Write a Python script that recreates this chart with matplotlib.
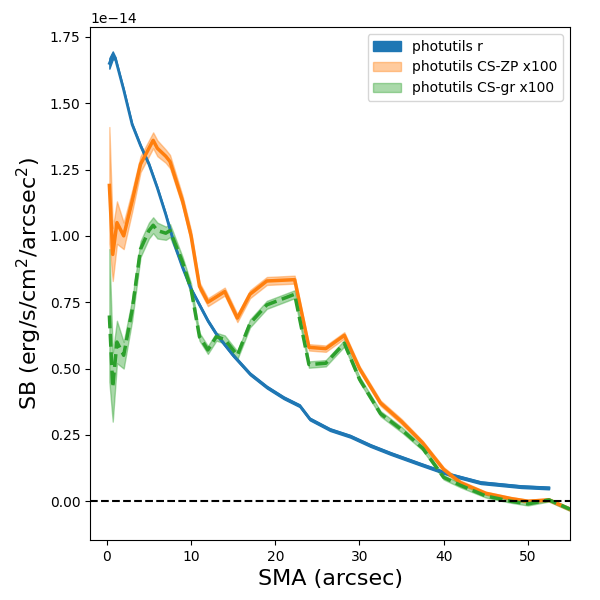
import numpy as np
import matplotlib
matplotlib.use("Agg")
import matplotlib.pyplot as plt

sma_r = [0.3, 0.7, 1.0, 2, 3, 4, 5, 6, 7, 8, 9, 10, 11, 12, 13, 14, 15, 16, 17, 19, 21, 22.9, 24.1, 26.5, 28.9, 31.3, 33.7, 37.2, 40.8, 44.4, 49.2, 52.5]
sb_r = [1.65, 1.68, 1.67, 1.55, 1.42, 1.34, 1.27, 1.18, 1.08, 0.97, 0.88, 0.80, 0.74, 0.68, 0.63, 0.59, 0.55, 0.515, 0.48, 0.43, 0.39, 0.36, 0.31, 0.27, 0.245, 0.21, 0.18, 0.14, 0.10, 0.07, 0.055, 0.05]
err_r = [0.02, 0.015] + [0.005] * 30

sma = [0.3, 0.7, 1.2, 2, 3, 4, 5, 5.5, 6, 7, 7.5, 9, 10, 11, 12, 13, 14, 15.5, 17, 19, 22.3, 24, 26, 28.2, 30, 32.5, 35, 37.5, 40, 42, 45, 48, 50, 52.5, 55]
sb_zp = [1.19, 0.93, 1.05, 1.0, 1.13, 1.27, 1.33, 1.36, 1.33, 1.3, 1.28, 1.13, 1.0, 0.81, 0.75, 0.77, 0.79, 0.69, 0.78, 0.83, 0.835, 0.58, 0.575, 0.625, 0.5, 0.37, 0.3, 0.22, 0.12, 0.07, 0.03, 0.01, 0.0, 0.005, -0.03]
err_zp = [0.22, 0.1, 0.08, 0.05, 0.04, 0.03, 0.03, 0.03, 0.03, 0.025, 0.025, 0.02, 0.02, 0.015, 0.015, 0.015, 0.015, 0.015, 0.015, 0.015, 0.015, 0.012, 0.012, 0.012, 0.01, 0.01, 0.01, 0.008, 0.008, 0.008, 0.006, 0.006, 0.006, 0.006, 0.006]
sb_gr = [0.70, 0.43, 0.6, 0.55, 0.72, 0.95, 1.02, 1.04, 1.02, 1.01, 1.02, 0.9, 0.8, 0.62, 0.57, 0.62, 0.61, 0.55, 0.67, 0.74, 0.78, 0.515, 0.52, 0.595, 0.46, 0.33, 0.27, 0.2, 0.09, 0.06, 0.02, 0.0, -0.01, 0.005, -0.03]
err_gr = [0.25, 0.13, 0.08, 0.05, 0.04, 0.03, 0.03, 0.03, 0.03, 0.025, 0.025, 0.02, 0.02, 0.015, 0.015, 0.015, 0.015, 0.015, 0.015, 0.015, 0.015, 0.012, 0.012, 0.012, 0.01, 0.01, 0.01, 0.008, 0.008, 0.008, 0.006, 0.006, 0.006, 0.006, 0.006]

s = 1e-14
fig, ax = plt.subplots(figsize=(6, 6), dpi=100)
r = np.array(sb_r) * s; er = np.array(err_r) * s
ax.plot(sma_r, r, color='C0', lw=2)
ax.fill_between(sma_r, r - er, r + er, color='C0', alpha=1, label='photutils r')
z = np.array(sb_zp) * s; ez = np.array(err_zp) * s
ax.plot(sma, z, color='C1', lw=2.5)
ax.fill_between(sma, z - ez, z + ez, color='C1', alpha=0.4, label='photutils CS-ZP x100')
g = np.array(sb_gr) * s; eg = np.array(err_gr) * s
ax.plot(sma, g, color='C2', lw=2.5, ls='--')
ax.fill_between(sma, g - eg, g + eg, color='C2', alpha=0.4, label='photutils CS-gr x100')
ax.axhline(0, color='k', ls='--', lw=1.5)
ax.set_xlim(-2, 55)
ax.set_ylim(-0.146e-14, 1.787e-14)
ax.set_xlabel('SMA (arcsec)', fontsize=16)
ax.set_ylabel('SB (erg/s/cm$^2$/arcsec$^2$)', fontsize=16)
ax.legend(loc='upper right')
fig.subplots_adjust(left=0.15, right=0.95, top=0.955, bottom=0.1)
fig.savefig('out.png')
